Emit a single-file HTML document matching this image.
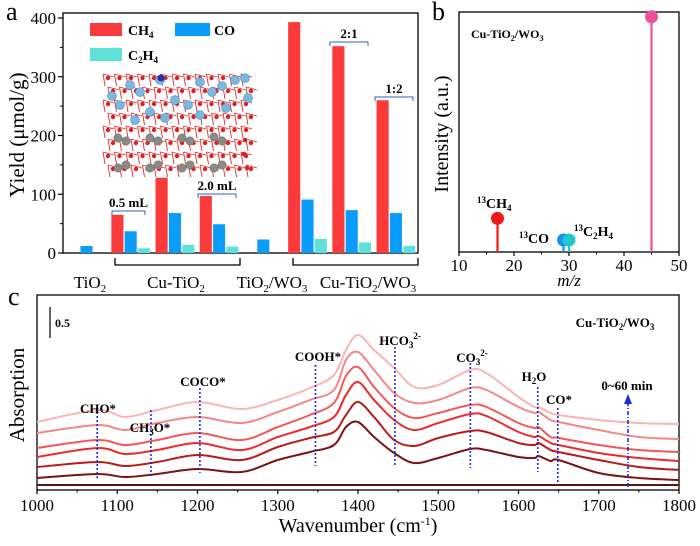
<!DOCTYPE html>
<html><head><meta charset="utf-8">
<style>
html,body{margin:0;padding:0;background:#fff;}
svg, svg text{font-family:"Liberation Serif","DejaVu Serif",serif;}
</style></head>
<body>
<svg id="fig" width="700" height="541" viewBox="0 0 700 541" xmlns="http://www.w3.org/2000/svg" font-family="Liberation Serif, DejaVu Serif, serif">
  <g id="pa"></g>
  <g id="pb"></g>
  <g id="pc"></g>
</svg>
<script>
// ---------- Panel a data ----------
const aGroups = ["TiO2","Cu-TiO2 0.5mL","Cu-TiO2 1.0mL","Cu-TiO2 2.0mL","TiO2/WO3","Cu-TiO2/WO3 1:1","Cu-TiO2/WO3 2:1","Cu-TiO2/WO3 1:2"];
const aCH4 = [null,65,128,97,null,393,352,260];
const aCO = [12,37,68,49,23,91,73,68];
const aC2H4 = [null,8,14,11,null,24,18,12];
const aTicks = [0,100,200,300,400];
// ---------- Panel b data ----------
const bMz = [17,29,30,45];
const bIntensity = [14,5,5,98];
const bLabels = ["13CH4","13CO","13C2H4",""];
const bColors = ["#f01818","#1a90f0","#20c8c8","#f0509a"];
const bTicks = [10,20,30,40,50];
// ---------- Panel c data ----------
const cWave = [1000,1075,1110,1150,1200,1255,1300,1340,1370,1385,1400,1420,1445,1470,1500,1540,1560,1600,1620,1625,1640,1650,1700,1750,1800];
const cFlat = [0.1,0.1,0.1,0.1,0.1,0.1,0.1,0.1,0.1,0.1,0.1,0.1,0.1,0.1,0.1,0.1,0.1,0.1,0.1,0.1,0.1,0.1,0.1,0.1,0.1];
const c10 = [0.24,0.32,0.26,0.32,0.42,0.36,0.60,0.76,0.90,1.26,1.36,1.06,0.74,0.54,0.64,0.82,0.80,0.66,0.64,0.68,0.58,0.60,0.34,0.24,0.20];
const c20 = [0.46,0.56,0.48,0.56,0.70,0.60,0.86,1.04,1.16,1.50,1.76,1.46,1.00,0.88,1.04,1.18,1.16,0.94,0.90,0.94,0.80,0.76,0.60,0.46,0.40];
const c30 = [0.66,0.84,0.72,0.80,0.94,0.80,1.06,1.26,1.46,1.90,2.16,1.80,1.40,1.20,1.34,1.52,1.48,1.16,1.06,1.08,0.94,0.90,0.74,0.64,0.58];
const c40 = [0.84,1.00,0.90,1.00,1.14,1.00,1.26,1.50,1.74,2.28,2.46,2.06,1.64,1.44,1.54,1.70,1.66,1.34,1.24,1.26,1.06,1.04,0.90,0.80,0.76];
const c50 = [1.14,1.30,1.20,1.34,1.46,1.34,1.56,1.80,2.00,2.60,2.76,2.40,1.94,1.74,1.80,2.04,2.00,1.66,1.54,1.56,1.40,1.36,1.20,1.06,1.02];
const c60 = [1.36,1.60,1.46,1.60,1.76,1.62,1.80,2.04,2.30,2.80,3.10,2.80,2.44,2.06,2.10,2.40,2.34,1.86,1.66,1.66,1.54,1.50,1.40,1.34,1.32];
const cTicks = [1000,1100,1200,1300,1400,1500,1600,1700,1800];
const cMarkers = [1075,1142,1203,1347,1446,1540,1624,1649];
const cMarkerNames = ["CHO*","CH3O*","COCO*","COOH*","HCO3","CO3","H2O","CO*"];

const NS="http://www.w3.org/2000/svg";
const FF="Liberation Serif, DejaVu Serif, serif";
function el(tag, attrs, parent){const e=document.createElementNS(NS,tag);for(const k in attrs)e.setAttribute(k,attrs[k]);parent.appendChild(e);return e;}
function txt(parent, x, y, html, size, extra){const t=el('text',Object.assign({x:x,y:y,'font-size':size,'font-family':FF},extra||{}),parent);t.innerHTML=html;return t;}

// ================= Panel A =================
const pa=document.getElementById('pa');
const aL=63,aR=418,aT=13,aB=253;
const ay=v=>aB-v*(aB-18)/400;
const ax=i=>86.5+i*44.2;
const bw=13.3;
el('rect',{x:aL,y:aT,width:aR-aL,height:aB-aT,fill:'none',stroke:'#000','stroke-width':1.3},pa);
// structure inset
const ins=el('g',{},pa);


for(let r=0;r<8;r++){for(let c=0;c<13;c++){
  const x=103+c*11.5+(r%2)*5, y=74+r*13;
  el('line',{x1:x,y1:y,x2:x+11,y2:y+3,stroke:'#e03030','stroke-width':0.9},ins);
  el('line',{x1:x,y1:y,x2:x+2,y2:y+12,stroke:'#e03030','stroke-width':0.9},ins);
  el('circle',{cx:x+5,cy:y+4,r:2.2,fill:'#e02020'},ins);
}}
[[130,85],[160,80],[200,82],[235,80],[245,78],[120,105],[150,112],[175,100],[212,92],[226,108],[135,120],[188,105],[248,98],[112,96],[140,92],[222,86],[165,118],[200,115]].forEach(p=>el('circle',{cx:p[0],cy:p[1],r:4.5,fill:'#7ab8e0',stroke:'#4a90c0','stroke-width':0.6},ins));
el('circle',{cx:161,cy:78,r:3.5,fill:'#2030b0'},ins);
[[118,138],[150,138],[182,138],[214,137],[118,168],[150,168],[182,168],[214,168],[126,141],[158,141],[190,141],[222,141],[126,165],[158,165],[190,165],[222,165]].forEach(p=>el('circle',{cx:p[0],cy:p[1],r:4.2,fill:'#8a8a86',stroke:'#666','stroke-width':0.5},ins));
[[245,140],[244,154],[247,168]].forEach(p=>el('circle',{cx:p[0],cy:p[1],r:2.3,fill:'#e02020'},ins));
// bars
const series=[[aCH4,'#fb3b3b',-1,'ch4'],[aCO,'#0a9cfa',0,'co'],[aC2H4,'#5fe0d8',1,'c2h4']];
series.forEach(s=>{s[0].forEach((v,i)=>{if(v===null)return;
  const r=el('rect',{x:ax(i)+s[2]*bw-bw/2+0.6,y:ay(v),width:bw-1.2,height:aB-ay(v),fill:s[1]},pa);
  
  
});});
// y ticks
aTicks.forEach(t=>{el('line',{x1:aL-5,y1:ay(t),x2:aL,y2:ay(t),stroke:'#000','stroke-width':1.2},pa);
  const lb=txt(pa,aL-7,ay(t)+6,t,17,{'text-anchor':'end'});
  
  
  if(t<400)el('line',{x1:aL-3,y1:ay(t+50),x2:aL,y2:ay(t+50),stroke:'#000','stroke-width':1},pa);
});
const yt=txt(pa,0,0,'Yield (μmol/g)',21,{'text-anchor':'middle',transform:'translate(24,135) rotate(-90)'});


txt(pa,6,20,'a',26,{});
// legend
const lg=el('g',{},pa);


el('rect',{x:90,y:23,width:32,height:13,fill:'#fb3b3b'},lg);
txt(lg,128,35,'CH<tspan font-size="9" dy="3">4</tspan>',14,{'font-weight':'bold'});
el('rect',{x:175,y:23,width:35,height:13,fill:'#0a9cfa'},lg);
txt(lg,214,35,'CO',14,{'font-weight':'bold'});
el('rect',{x:90,y:48,width:32,height:13,fill:'#5fe0d8'},lg);
txt(lg,128,60,'C<tspan font-size="9" dy="3">2</tspan><tspan dy="-3">H</tspan><tspan font-size="9" dy="3">4</tspan>',14,{'font-weight':'bold'});
// brackets
function brk(x1,x2,y,label){
  el('path',{d:`M${x1},${y+4} V${y} H${x2} V${y+4}`,fill:'none',stroke:'#3060c0','stroke-width':1},pa);
  if(label)txt(pa,(x1+x2)/2,y-4,label,13,{'text-anchor':'middle','font-weight':'bold'});}
brk(112,145,211,'0.5 mL');brk(198,236,194,'2.0 mL');brk(330,368,42,'2:1');brk(375,413,97,'1:2');
el('path',{d:'M115,258 V265 H240 V258',fill:'none',stroke:'#000','stroke-width':1.3},pa);
el('path',{d:'M293,258 V265 H418 V258',fill:'none',stroke:'#000','stroke-width':1.3},pa);
const cat=[[90,'TiO<tspan font-size="11" dy="4">2</tspan>'],[176,'Cu-TiO<tspan font-size="11" dy="4">2</tspan>'],[272,'TiO<tspan font-size="11" dy="4">2</tspan><tspan dy="-4">/WO</tspan><tspan font-size="11" dy="4">3</tspan>'],[368,'Cu-TiO<tspan font-size="11" dy="4">2</tspan><tspan dy="-4">/WO</tspan><tspan font-size="11" dy="4">3</tspan>']];
cat.forEach(c=>{const t=txt(pa,c[0],288,c[1],17,{'text-anchor':'middle'});
  
  });

// ================= Panel B =================
const pb=document.getElementById('pb');
const bL=459,bR=679,bT=12,bB=252;
const bx=v=>bL+(v-10)*(bR-bL)/40;
const by=v=>bB-v*(bB-bT)/100;
el('rect',{x:bL,y:bT,width:bR-bL,height:bB-bT,fill:'none',stroke:'#000','stroke-width':1.3},pb);
bMz.forEach((m,i)=>{
  el('line',{x1:bx(m),y1:bB,x2:bx(m),y2:by(bIntensity[i]),stroke:bColors[i],'stroke-width':2.2},pb);
  const c=el('circle',{cx:bx(m),cy:by(bIntensity[i]),r:6.5,fill:bColors[i]},pb);
  
  
});
bTicks.forEach(t=>{el('line',{x1:bx(t),y1:bB,x2:bx(t),y2:bB+4,stroke:'#000','stroke-width':1.2},pb);
  if(t<50)el('line',{x1:bx(t+5),y1:bB,x2:bx(t+5),y2:bB+2.5,stroke:'#000','stroke-width':1},pb);
  const lb=txt(pb,bx(t),271,t,17,{'text-anchor':'middle'});
  
  });
txt(pb,bx(30),286,'m/z',17,{'text-anchor':'middle','font-style':'italic'});
txt(pb,0,0,'Intensity (a.u.)',20,{'text-anchor':'middle',transform:'translate(448,134) rotate(-90)'});
txt(pb,432,20,'b',26,{});
txt(pb,471,38,'Cu-TiO<tspan font-size="8" dy="3">2</tspan><tspan dy="-3">/WO</tspan><tspan font-size="8" dy="3">3</tspan>',12,{'font-weight':'bold'});
txt(pb,477,208,'<tspan font-size="9" dy="-5">13</tspan><tspan dy="5">CH</tspan><tspan font-size="9" dy="3">4</tspan>',14,{'font-weight':'bold'});
txt(pb,519,243,'<tspan font-size="9" dy="-5">13</tspan><tspan dy="5">CO</tspan>',14,{'font-weight':'bold'});
txt(pb,574,236,'<tspan font-size="9" dy="-5">13</tspan><tspan dy="5">C</tspan><tspan font-size="9" dy="3">2</tspan><tspan dy="-3">H</tspan><tspan font-size="9" dy="3">4</tspan>',14,{'font-weight':'bold'});

// ================= Panel C =================
const pc=document.getElementById('pc');
const cL=37,cR=679,cT=295,cB=490;
const cx=w=>cL+(w-1000)*(cR-cL)/800;
const cy=a=>cB-a*50;
el('rect',{x:cL,y:cT,width:cR-cL,height:cB-cT,fill:'none',stroke:'#000','stroke-width':1.3},pc);
function smooth(vals){const p=cWave.map((w,i)=>[cx(w),cy(vals[i])]);let d=`M${p[0][0]},${p[0][1]}`;
  for(let i=0;i<p.length-1;i++){const p0=p[Math.max(0,i-1)],p1=p[i],p2=p[i+1],p3=p[Math.min(p.length-1,i+2)];
    const c1=[p1[0]+(p2[0]-p0[0])/6,p1[1]+(p2[1]-p0[1])/6],c2=[p2[0]-(p3[0]-p1[0])/6,p2[1]-(p3[1]-p1[1])/6];
    d+=` C${c1[0]},${c1[1]} ${c2[0]},${c2[1]} ${p2[0]},${p2[1]}`;}return d;}
[[cFlat,'#5a1515','0min'],[c10,'#7a1414','10min'],[c20,'#b81a1a','20min'],[c30,'#ee2a2a','30min'],[c40,'#f35858','40min'],[c50,'#f68686','50min'],[c60,'#f9b4b4','60min']].forEach(s=>{
  const p=el('path',{d:smooth(s[0]),fill:'none',stroke:s[1],'stroke-width':2},pc);
  
  });
const mTop=[408,410,388,365,347,363,387,408], mBot=[478,478,473,466,467,468,472,483];
cMarkers.forEach((w,i)=>{const l=el('line',{x1:cx(w),y1:mTop[i],x2:cx(w),y2:mBot[i],stroke:'#1a2ee0','stroke-width':1.6,'stroke-dasharray':'2,2'},pc);
  
  });
el('line',{x1:628,y1:487,x2:628,y2:402,stroke:'#1a2ee0','stroke-width':1.6,'stroke-dasharray':'4,2,1,2'},pc);
el('path',{d:'M624,404 L628,394 L632,404 Z',fill:'#1a2ee0'},pc);
const B={'font-weight':'bold','text-anchor':'middle'};
txt(pc,98,413,'CHO*',13,B);
txt(pc,150,432,'CH<tspan font-size="9" dy="3">3</tspan><tspan dy="-3">O*</tspan>',13,B);
txt(pc,203,386,'COCO*',13,B);
txt(pc,318,361,'COOH*',13,B);
txt(pc,400,345,'HCO<tspan font-size="9" dy="3">3</tspan><tspan font-size="9" dy="-9">2-</tspan>',13,B);
txt(pc,472,362,'CO<tspan font-size="9" dy="3">3</tspan><tspan font-size="9" dy="-9">2-</tspan>',13,B);
txt(pc,534,381,'H<tspan font-size="9" dy="3">2</tspan><tspan dy="-3">O</tspan>',13,B);
txt(pc,559,404,'CO*',13,B);
txt(pc,627,390,'0~60 min',13,B);
txt(pc,615,327,'Cu-TiO<tspan font-size="9" dy="3">2</tspan><tspan dy="-3">/WO</tspan><tspan font-size="9" dy="3">3</tspan>',13,B);
el('line',{x1:50,y1:307,x2:50,y2:338,stroke:'#000','stroke-width':1.2},pc);
txt(pc,55,327,'0.5',12,{'font-weight':'bold'});
cTicks.forEach(t=>{el('line',{x1:cx(t),y1:cB,x2:cx(t),y2:cB+4,stroke:'#000','stroke-width':1.2},pc);
  if(t<1800)el('line',{x1:cx(t+50),y1:cB,x2:cx(t+50),y2:cB+2.5,stroke:'#000','stroke-width':1},pc);
  const lb=txt(pc,cx(t),511,t,17,{'text-anchor':'middle'});
  
  });
txt(pc,358,532,'Wavenumber (cm<tspan font-size="12" dy="-7">-1</tspan><tspan dy="7">)</tspan>',20,{'text-anchor':'middle'});
txt(pc,0,0,'Absorption',21,{'text-anchor':'middle',transform:'translate(24,395) rotate(-90)'});
txt(pc,8,305,'c',26,{});
</script>
</body></html>
